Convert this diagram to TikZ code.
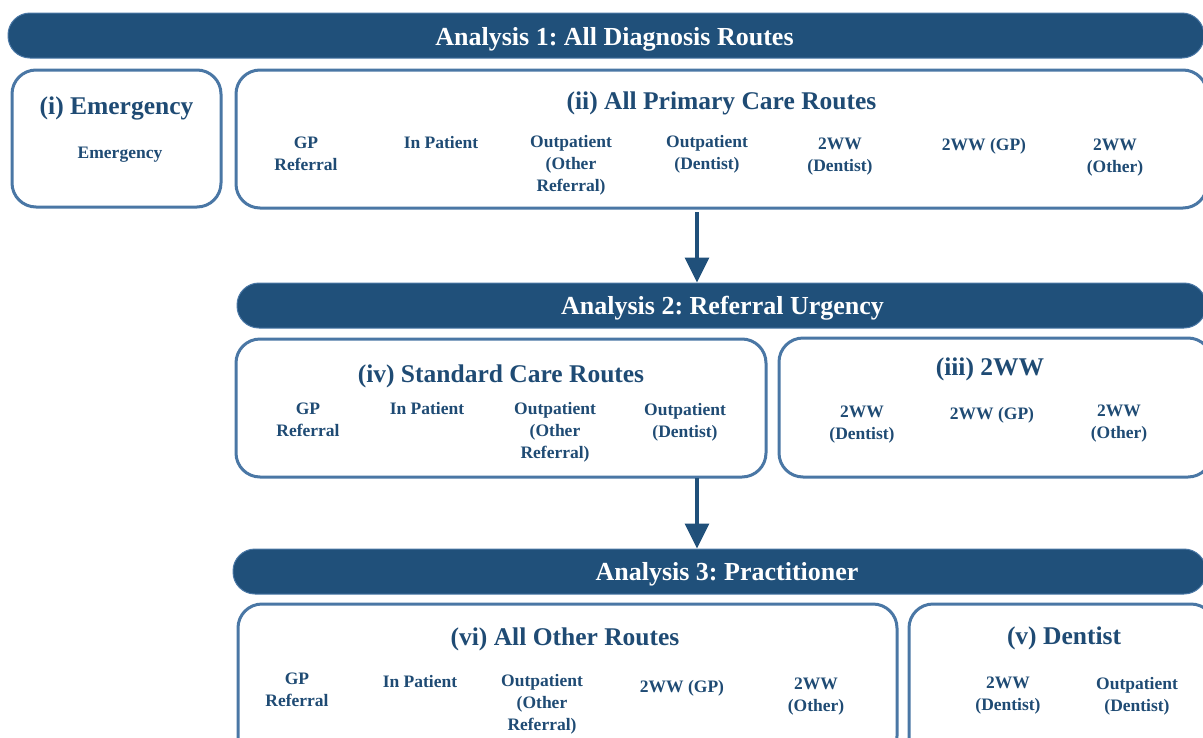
\documentclass[tikz,border=0pt]{standalone}
\usepackage{fontspec}
\setmainfont{Liberation Serif}
\frenchspacing
\usetikzlibrary{arrows.meta}
\definecolor{navy}{HTML}{20507A}
\definecolor{edge}{HTML}{4A77A5}
\definecolor{ink}{HTML}{1F4B74}
\tikzset{
  x=1pt, y=-1pt,
  banner/.style={draw=edge, line width=1pt, fill=navy, rounded corners=22pt, inner sep=0pt},
  bannertext/.style={text=white, font=\fontsize{26}{30}\selectfont\bfseries, inner sep=0pt, yshift=-2pt},
  group/.style={draw=edge, line width=3pt, fill=white, rounded corners=24pt, inner sep=0pt},
  grouptitle/.style={text=ink, font=\fontsize{25.5}{30}\selectfont\bfseries, inner sep=0pt, yshift=-2pt},
  item/.style={text=ink, font=\fontsize{17.5}{22}\selectfont\bfseries, align=center, inner sep=0pt, yshift=-2pt},
  flow/.style={draw=navy, line width=3.5pt, -{Triangle[width=24pt,length=25pt]}}
}
\newcommand{\boxat}[5]{% name, x1, y1, x2, y2
  \node[group, minimum width={#4-#2}, minimum height={#5-#3}] (#1) at ({(#2+#4)/2},{(#3+#5)/2}) {};}
\newcommand{\bannerat}[5]{%
  \node[banner, minimum width={#4-#2}, minimum height={#5-#3}] (#1) at ({(#2+#4)/2},{(#3+#5)/2}) {};}
\begin{document}
\begin{tikzpicture}
\useasboundingbox (0,0) rectangle (1203,737);
\clip (0,0) rectangle (1203,737);

% Analysis 1
\bannerat{b1}{8}{13}{1204}{58}
\node[bannertext] (b1t) at (614.5,37) {Analysis 1: All Diagnosis Routes};

\boxat{gi}{12}{70}{221}{207}
\node[grouptitle] (git) at (116.5,106) {(i) Emergency};
\node[item] (gi1) at (120,153) {Emergency};

\boxat{gii}{236}{70}{1207}{208}
\node[grouptitle] (giit) at (721.5,101) {(ii) All Primary Care Routes};
\node[item] (gii1) at (306,152) {GP\\Referral};
\node[item] (gii2) at (441,141) {In Patient};
\node[item] (gii3) at (571,163) {Outpatient\\(Other\\Referral)};
\node[item] (gii4) at (707,152) {Outpatient\\(Dentist)};
\node[item] (gii5) at (840,155) {2WW\\(Dentist)};
\node[item] (gii6) at (984,144) {2WW (GP)};
\node[item] (gii7) at (1115,156) {2WW\\(Other)};

% Analysis 2
\bannerat{b2}{237}{283}{1206}{328}
\node[bannertext] (b2t) at (722.5,306) {Analysis 2: Referral Urgency};

\boxat{giv}{236}{339}{766}{477}
\node[grouptitle] (givt) at (501,374) {(iv) Standard Care Routes};
\node[item] (giv1) at (308,418) {GP\\Referral};
\node[item] (giv2) at (427,407) {In Patient};
\node[item] (giv3) at (555,430) {Outpatient\\(Other\\Referral)};
\node[item] (giv4) at (685,420) {Outpatient\\(Dentist)};

\boxat{giii}{779}{338}{1212}{477}
\node[grouptitle] (giiit) at (990,367) {(iii) 2WW};
\node[item] (giii1) at (862,423) {2WW\\(Dentist)};
\node[item] (giii2) at (992,413) {2WW (GP)};
\node[item] (giii3) at (1119,422) {2WW\\(Other)};

% Analysis 3
\bannerat{b3}{233}{549}{1206}{594}
\node[bannertext] (b3t) at (727,572) {Analysis 3: Practitioner};

\boxat{gvi}{238}{604}{897}{760}
\node[grouptitle] (gvit) at (565,637) {(vi) All Other Routes};
\node[item] (gvi1) at (297,688) {GP\\Referral};
\node[item] (gvi2) at (420,680) {In Patient};
\node[item] (gvi3) at (542,702) {Outpatient\\(Other\\Referral)};
\node[item] (gvi4) at (682,686) {2WW (GP)};
\node[item] (gvi5) at (816,695) {2WW\\(Other)};

\boxat{gv}{909}{604}{1215}{760}
\node[grouptitle] (gvt) at (1064,636) {(v) Dentist};
\node[item] (gv1) at (1008,694) {2WW\\(Dentist)};
\node[item] (gv2) at (1137,694) {Outpatient\\(Dentist)};

% Flow between analyses
\coordinate (s1) at (697,212);
\coordinate (s2) at (697,478);
\draw[flow] (s1) -- (s1 |- b2.north);
\draw[flow] (s2) -- (s2 |- b3.north);
\end{tikzpicture}
\end{document}
